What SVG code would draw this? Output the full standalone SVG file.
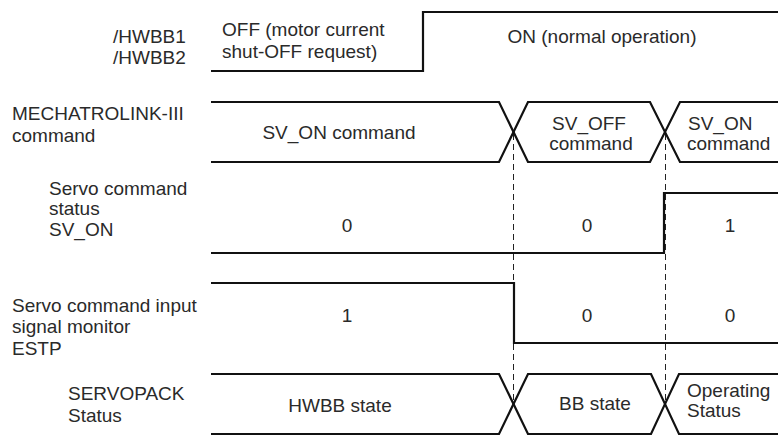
<svg xmlns="http://www.w3.org/2000/svg" width="778" height="436" viewBox="0 0 778 436">
<style>
text{font-family:"Liberation Sans",Arial,sans-serif;font-size:19px;fill:#2a2a2a}
.m{text-anchor:middle}
.sig{fill:none;stroke:#111;stroke-width:2.2;stroke-linejoin:miter}
.dash{fill:none;stroke:#222;stroke-width:1;stroke-dasharray:6 4}
</style>
<rect width="778" height="436" fill="#fff"/>
<g id="connectors">
<line class="dash" x1="513.5" y1="134" x2="513.5" y2="402"/>
<line class="dash" x1="665.5" y1="134" x2="665.5" y2="402"/>
</g>
<g id="hwbb">
<text x="113" y="43">/HWBB1</text>
<text x="113" y="64">/HWBB2</text>
<polyline class="sig" points="211,71 423,71 423,12 778,12"/>
<text x="222" y="36">OFF (motor current</text>
<text x="222" y="58">shut-OFF request)</text>
<text class="m" x="602" y="43">ON (normal operation)</text>
</g>
<g id="mechatrolink">
<text x="12" y="120">MECHATROLINK-III</text>
<text x="12" y="142">command</text>
<polyline class="sig" points="211,102 499,102 528,162 650,162 680,102 778,102"/>
<polyline class="sig" points="211,162 499,162 528,102 650,102 680,162 778,162"/>
<text class="m" x="339" y="139">SV_ON command</text>
<text class="m" x="589" y="130">SV_OFF</text>
<text class="m" x="591" y="150">command</text>
<text x="688" y="130">SV_ON</text>
<text x="687" y="150">command</text>
</g>
<g id="svon">
<text x="49" y="195">Servo command</text>
<text x="49" y="215">status</text>
<text x="49" y="236">SV_ON</text>
<polyline class="sig" points="211,253 664,253 664,193 778,193"/>
<text class="m" x="347" y="232">0</text>
<text class="m" x="587" y="232">0</text>
<text class="m" x="730" y="232">1</text>
</g>
<g id="estp">
<text x="12" y="312">Servo command input</text>
<text x="12" y="333">signal monitor</text>
<text x="12" y="355">ESTP</text>
<polyline class="sig" points="211,283 514,283 514,343 778,343"/>
<text class="m" x="347" y="322">1</text>
<text class="m" x="587" y="322">0</text>
<text class="m" x="730" y="322">0</text>
</g>
<g id="servopack">
<text x="68" y="400">SERVOPACK</text>
<text x="68" y="422">Status</text>
<polyline class="sig" points="211,374 499,374 528,434 651,434 679,374 778,374"/>
<polyline class="sig" points="211,434 499,434 528,374 651,374 679,434 778,434"/>
<text class="m" x="340" y="412">HWBB state</text>
<text class="m" x="595" y="410">BB state</text>
<text x="687" y="397">Operating</text>
<text x="687" y="417">Status</text>
</g>
</svg>
